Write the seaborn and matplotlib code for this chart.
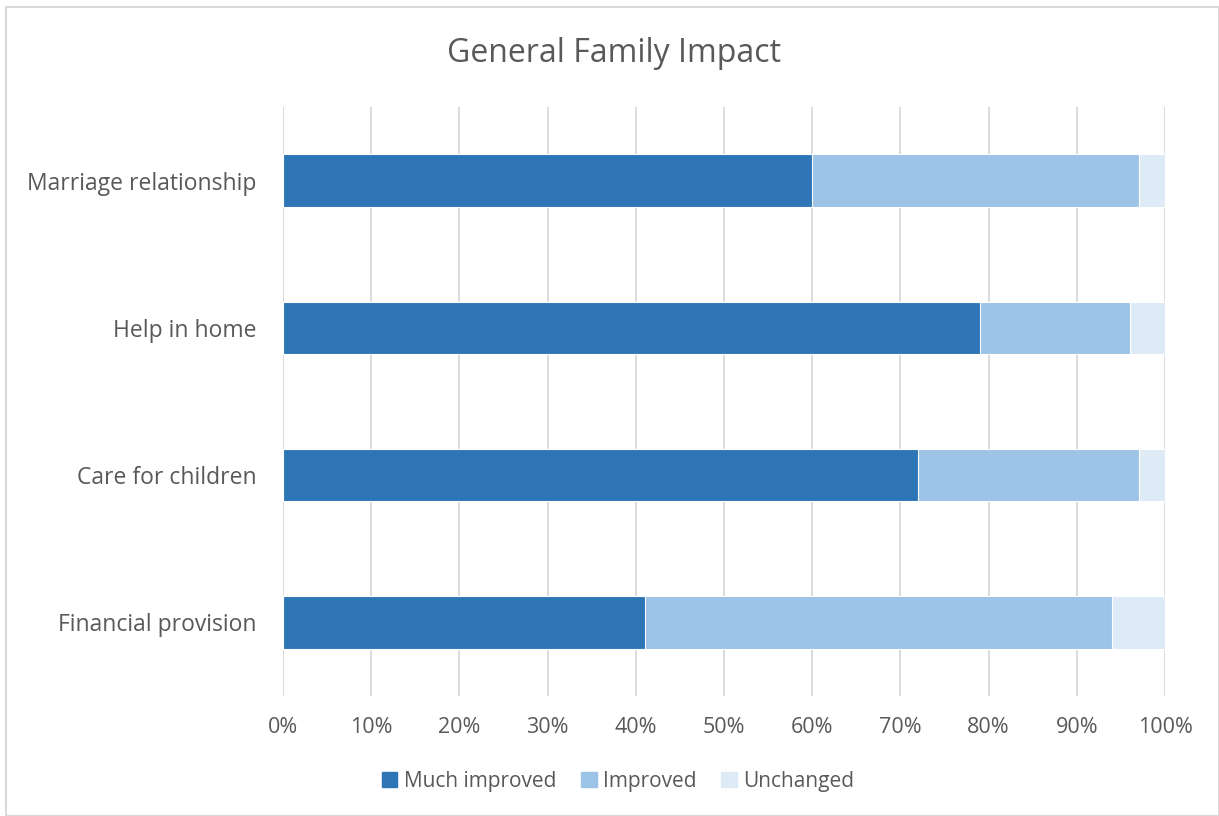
import matplotlib
matplotlib.use("Agg")
import matplotlib.pyplot as plt
import matplotlib.patches as mpatches
import seaborn as sns
import pandas as pd
import numpy as np

categories = ["Marriage relationship", "Help in home", "Care for children", "Financial provision"]
much_improved = [60, 79, 72, 41]
improved = [37, 17, 25, 53]
unchanged = [3, 4, 3, 6]
series_names = ["Much improved", "Improved", "Unchanged"]
colors = ["#2E75B6", "#9DC3E6", "#DEEBF7"]

sns.set_theme(style="white")
plt.rcParams['font.family'] = ['Open Sans', 'DejaVu Sans']
text_col = "#595959"

df = pd.DataFrame({"cat": categories,
                   "a": np.array(much_improved),
                   "b": np.array(much_improved) + np.array(improved),
                   "c": np.array(much_improved) + np.array(improved) + np.array(unchanged)})

fig = plt.figure(figsize=(12.19, 8.16), dpi=100)
ax = fig.add_axes([283 / 1219, 1 - 696 / 816, (1165 - 283) / 1219, (696 - 107) / 816])

# draw from the full stack down so the shorter layers sit on top
for col, c in zip(["c", "b", "a"], colors[::-1]):
    sns.barplot(data=df, y="cat", x=col, color=c, orient="h", width=0.355,
                saturation=1, edgecolor="white", linewidth=0.8, ax=ax)

ax.set_xlim(0, 100)
ax.set_ylim(3.5, -0.5)
ax.set_xticks(np.arange(0, 101, 10))
ax.set_xticklabels([f"{v}%" for v in range(0, 101, 10)])
ax.xaxis.grid(True, color="#D9D9D9", linewidth=1.3)
ax.set_axisbelow(True)
for s in ax.spines.values():
    s.set_visible(False)
ax.set_xlabel("")
ax.set_ylabel("")
ax.tick_params(axis="x", colors=text_col, labelsize=15.5, pad=15, length=0)
ax.tick_params(axis="y", colors=text_col, labelsize=16.5, pad=19, length=0)

fig.text(614 / 1219, 1 - 54 / 816, "General Family Impact", ha="center", va="center",
         fontsize=23, color=text_col)

handles = [mpatches.Patch(color=c, label=n) for c, n in zip(colors, series_names)]
leg = fig.legend(handles=handles, loc="center", bbox_to_anchor=(618 / 1219, 1 - 781 / 816),
                 ncol=3, frameon=False, fontsize=15, handlelength=0.75, handleheight=0.75,
                 handletextpad=0.3, columnspacing=1.2)
for t in leg.get_texts():
    t.set_color(text_col)

border = mpatches.Rectangle((6 / 1219, 0), 1 - 6 / 1219, 1 - 7 / 816, transform=fig.transFigure,
                            fill=False, edgecolor="#D9D9D9", linewidth=1.5)
fig.patches.append(border)

fig.savefig("out.png", dpi=100)
